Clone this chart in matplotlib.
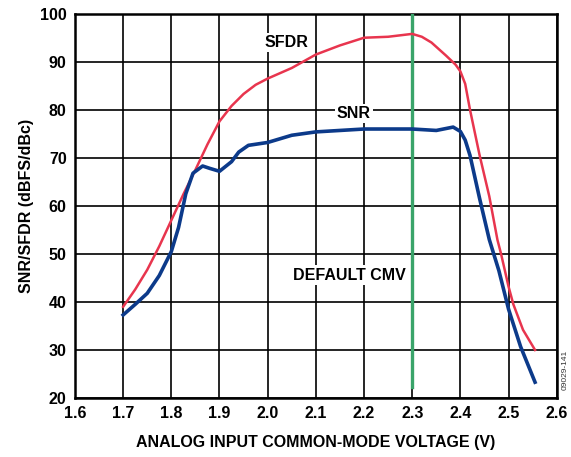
import matplotlib
matplotlib.use("Agg")
import matplotlib.pyplot as plt

plt.rcParams['font.family'] = ['Liberation Sans', 'DejaVu Sans']
plt.rcParams['font.weight'] = 'bold'

# SFDR curve (dBc) vs common-mode voltage
sfdr_v = [1.70, 1.725, 1.75, 1.775, 1.80, 1.825, 1.85, 1.875, 1.90, 1.925,
          1.95, 1.975, 2.00, 2.05, 2.10, 2.15, 2.20, 2.25, 2.30, 2.32, 2.34,
          2.37, 2.39, 2.40, 2.41, 2.42, 2.44, 2.46, 2.477, 2.484, 2.50, 2.51,
          2.53, 2.555]
sfdr = [39, 42.6, 46.7, 51.6, 57, 62.4, 67.5, 72.8, 77.6, 80.8,
        83.3, 85.2, 86.5, 88.7, 91.5, 93.4, 95, 95.2, 95.8, 95.2, 94,
        91.3, 89.4, 88, 85.4, 80, 70.5, 62, 52.9, 50.2, 43.2, 39.5,
        34.2, 30]

# SNR curve (dBFS)
snr_v = [1.70, 1.725, 1.75, 1.775, 1.80, 1.815, 1.83, 1.845, 1.865, 1.88,
         1.90, 1.925, 1.94, 1.96, 1.98, 2.00, 2.05, 2.10, 2.20, 2.30, 2.35,
         2.37, 2.385, 2.40, 2.41, 2.42, 2.44, 2.46, 2.48, 2.50, 2.525, 2.555]
snr = [37.3, 39.5, 41.8, 45.5, 50.5, 55.5, 62.5, 66.8, 68.3, 67.8,
       67.2, 69.2, 71.2, 72.6, 72.9, 73.2, 74.7, 75.4, 76, 76, 75.7,
       76.1, 76.4, 75.5, 73.7, 70.5, 61.5, 53, 46.5, 38.5, 30.7, 23.3]

default_cmv = 2.3
cmv_span = [22.4, 100]

fig = plt.figure(figsize=(5.71, 4.57), dpi=100)
ax = fig.add_axes([0.1313, 0.129, 0.8437, 0.841])

ax.set_xlim(1.6, 2.6)
ax.set_ylim(20, 100)
ax.set_xticks([1.6 + 0.1 * i for i in range(11)])
ax.set_yticks(range(20, 101, 10))
ax.set_xticklabels(['%.1f' % (1.6 + 0.1 * i) for i in range(11)])
ax.grid(True, color='black', linewidth=1.2)
ax.tick_params(length=0, labelsize=11.5, pad=6)
for lab in ax.get_xticklabels() + ax.get_yticklabels():
    lab.set_fontweight('bold')
for s in ax.spines.values():
    s.set_linewidth(1.8)

ax.plot([default_cmv, default_cmv], cmv_span, color='#3aa46a', linewidth=2.4, zorder=3)
ax.plot(sfdr_v, sfdr, color='#e8354e', linewidth=1.8, zorder=4,
        solid_joinstyle='round')
ax.plot(snr_v, snr, color='#0c3a8a', linewidth=2.6, zorder=4,
        solid_joinstyle='round')

box = dict(facecolor='white', edgecolor='none', pad=1.5)
ax.text(2.038, 94, 'SFDR', ha='center', va='center', fontsize=11.5,
        fontweight='bold', bbox=box, zorder=5)
ax.text(2.179, 79.3, 'SNR', ha='center', va='center', fontsize=11.5,
        fontweight='bold', bbox=box, zorder=5)
ax.text(2.169, 45.6, 'DEFAULT CMV', ha='center', va='center', fontsize=11.5,
        fontweight='bold', bbox=box, zorder=5)

ax.set_xlabel('ANALOG INPUT COMMON-MODE VOLTAGE (V)', fontsize=11.5,
              fontweight='bold', labelpad=10)
ax.set_ylabel('SNR/SFDR (dBFS/dBc)', fontsize=11.5, fontweight='bold',
              labelpad=4)

fig.text(0.99, 0.19, '09029-141', rotation=90, fontsize=6, fontweight='normal',
         ha='center', va='center', color='#333333')

fig.savefig('out.png', dpi=100)
